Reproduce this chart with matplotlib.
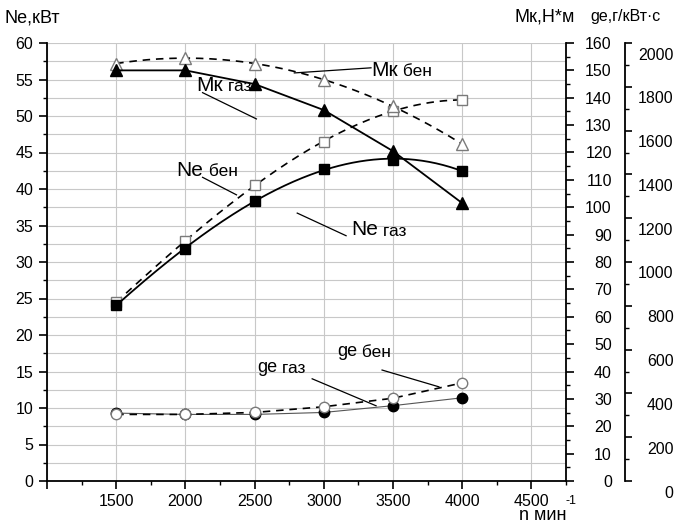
import numpy as np
import matplotlib
matplotlib.use('Agg')
import matplotlib.pyplot as plt
import matplotlib.ticker as ticker
import matplotlib.transforms as mtransforms

plt.rcParams['font.family'] = ['Liberation Sans', 'DejaVu Sans']

# данные
n = [1500, 2000, 2500, 3000, 3500, 4000]
ne_ben = [24.5, 32.9, 40.5, 46.5, 50.7, 52.2]
ne_gaz = [24.1, 31.8, 38.4, 42.7, 44.0, 42.5]
mk_ben = [152.5, 154.5, 152.5, 146.5, 137.0, 123.0]
mk_gaz = [150.0, 150.0, 145.0, 135.5, 120.5, 101.5]
ge_ben = [304, 304, 313, 339, 378, 448]
ge_gaz = [310, 304, 304, 313, 344, 380]

x_ticks = [1000, 1500, 2000, 2500, 3000, 3500, 4000, 4500]
x_labels = ['', '1500', '2000', '2500', '3000', '3500', '4000', '4500']

# подписи кривых: (x, y в осях Ne), большая часть, малая часть, линия-выноска
podpisi = [
    (2081, 54.2, 'Мк', ' газ', (2124, 53.2), (2513, 49.6)),
    (3341, 56.3, 'Мк', ' бен', (2787, 55.9), (3341, 56.6)),
    (1937, 42.6, 'Ne', ' бен', (2124, 41.6), (2369, 39.2)),
    (3197, 34.4, 'Ne', ' газ', (2808, 36.7), (3161, 33.6)),
    (2520, 15.5, 'ge', ' газ', (2916, 14.0), (3378, 10.3)),
    (3097, 17.7, 'ge', ' бен', (3421, 15.2), (3832, 12.9)),
]

fig = plt.figure(figsize=(6.79, 5.26), dpi=100)
ax = fig.add_axes([47/679, 1-481/526, 519/679, 438/526])
ax2 = ax.twinx()
ax3 = ax.twinx()

grid_c = '#c8c8c8'
ax.set_xlim(1000, 4750)
ax.set_ylim(0, 60)
ax.set_xticks(x_ticks)
ax.set_xticklabels(x_labels)
ax.xaxis.set_minor_locator(ticker.MultipleLocator(250))
ax.yaxis.set_major_locator(ticker.MultipleLocator(5))
ax.yaxis.set_minor_locator(ticker.MultipleLocator(2.5))
ax.xaxis.grid(True, which='major', color=grid_c, lw=0.8)
ax.yaxis.grid(True, which='both', color=grid_c, lw=0.8)
ax.set_axisbelow(True)
ax.tick_params(which='major', direction='out', length=6, width=1.2, labelsize=11.5, pad=3)
ax.tick_params(which='minor', direction='out', length=3, width=1.0)
ax.tick_params(axis='y', pad=4)
for s in ['top', 'right']:
    ax.spines[s].set_visible(False)
ax.spines['left'].set_linewidth(1.3)
ax.spines['bottom'].set_linewidth(1.3)

# Мк ось
ax2.set_ylim(0, 160)
ax2.yaxis.set_major_locator(ticker.MultipleLocator(10))
ax2.yaxis.set_minor_locator(ticker.MultipleLocator(5))
ax2.tick_params(which='major', direction='out', length=6, width=1.2, labelsize=11.5, pad=27)
ax2.tick_params(which='minor', direction='out', length=3, width=1.0)
for s in ['top', 'left', 'bottom']:
    ax2.spines[s].set_visible(False)
ax2.spines['right'].set_linewidth(1.3)
for lab in ax2.get_yticklabels():
    lab.set_ha('right')

# ge ось
ax3.set_ylim(0, 2000)
ax3.yaxis.set_major_locator(ticker.MultipleLocator(200))
ax3.yaxis.set_minor_locator(ticker.MultipleLocator(100))
ax3.spines['right'].set_position(('axes', 1.1137))
ax3.tick_params(which='major', direction='out', length=5, width=1.2, labelsize=11.5, pad=30)
ax3.tick_params(which='minor', direction='out', length=3, width=1.0)
for s in ['top', 'left', 'bottom']:
    ax3.spines[s].set_visible(False)
ax3.spines['right'].set_linewidth(1.3)

open_c = '#7a7a7a'
dash = (4.5, 3.5)
xx = np.linspace(n[0], n[-1], 200)

# Ne
p = np.polyfit(n, ne_ben, 3)
ax.plot(xx, np.polyval(p, xx), color='k', lw=1.2, dashes=dash)
ax.plot(n, ne_ben, 's', ms=7, mfc='white', mec=open_c, mew=1.0)
p = np.polyfit(n, ne_gaz, 3)
ax.plot(xx, np.polyval(p, xx), color='k', lw=1.3)
ax.plot(n, ne_gaz, 's', ms=7, mfc='black', mec='black')

# Мк
p = np.polyfit(n, mk_ben, 2)
ax2.plot(xx, np.polyval(p, xx), color='k', lw=1.2, dashes=dash)
ax2.plot(n, mk_ben, '^', ms=8.5, mfc='white', mec=open_c, mew=1.0)
ax2.plot(n, mk_gaz, '-', color='k', lw=1.3)
ax2.plot(n, mk_gaz, '^', ms=8.5, mfc='black', mec='black')

# ge
ax3.plot(n, ge_gaz, '-', color='#555555', lw=0.8)
ax3.plot(n, ge_gaz, 'o', ms=7.5, mfc='black', mec='black')
ax3.plot(n, ge_ben, color='k', lw=1.2, dashes=dash)
ax3.plot(n, ge_ben, 'o', ms=7.5, mfc='white', mec=open_c, mew=1.0)

# подписи кривых
for x, y, big, small, p1, p2 in podpisi:
    ax.plot([p1[0], p2[0]], [p1[1], p2[1]], color='k', lw=0.9, zorder=5)
    bs = 15 if big != 'ge' else 13
    t = ax.text(x, y, big, fontsize=bs, va='center', ha='left', zorder=6)
    ax.annotate(small, xy=(1, 0.02), xycoords=t, xytext=(0, 0), textcoords='offset points',
                fontsize=12.5, va='bottom', ha='left', zorder=6)

# подписи осей
fig.text(5/679, 1-18/526, 'Ne,кВт', fontsize=13, va='center', ha='left')
fig.text(514/679, 1-17/526, 'Мк,Н*м', fontsize=13, va='center', ha='left')
fig.text(590/679, 1-17/526, 'ge,г/кВт·с', fontsize=11.5, va='center', ha='left')
fig.text(519/679, 2/526, 'n мин', fontsize=13, va='bottom', ha='left')
fig.text(566/679, 1-501/526, '-1', fontsize=9, va='center', ha='left')

fig.canvas.draw()
off = mtransforms.ScaledTranslation(0, -0.105, fig.dpi_scale_trans)
for lab in ax3.get_yticklabels():
    lab.set_ha('right')
    lab.set_transform(lab.get_transform() + off)

fig.savefig('out.png', dpi=100)
